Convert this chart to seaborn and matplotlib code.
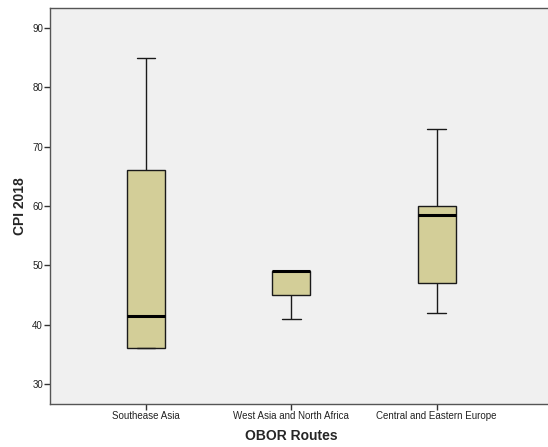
import numpy as np
import pandas as pd
import seaborn as sns
import matplotlib
matplotlib.use("Agg")
import matplotlib.pyplot as plt

routes = ["Southease Asia", "West Asia and North Africa", "Central and Eastern Europe"]
# five-number summaries: min, Q1, median, Q3, max
sea_stats = [36, 36, 41.5, 66, 85]
wana_stats = [41, 45, 49, 49, 49]
cee_stats = [42, 47, 58.5, 60, 73]
yticks = [30, 40, 50, 60, 70, 80, 90]

df = pd.DataFrame({
    "route": [routes[0]] * 5 + [routes[1]] * 5 + [routes[2]] * 5,
    "cpi": sea_stats + wana_stats + cee_stats,
})

sns.set_style("white")
plt.rcParams["font.family"] = ["Liberation Sans", "DejaVu Sans"]

fig = plt.figure(figsize=(5.48, 4.47), dpi=100)
ax = fig.add_axes([50 / 548, 43 / 447, 1 - 50 / 548 + 0.01, (404 - 8) / 447])
ax.set_facecolor("#F0F0F0")

sns.boxplot(
    data=df, x="route", y="cpi", order=routes, ax=ax,
    whis=(0, 100), width=0.26, color="#D3CE98", saturation=1,
    linecolor="#1a1a1a", linewidth=1,
    medianprops=dict(color="black", linewidth=2.2),
    showfliers=False,
)

ax.set_xlim(-0.661, 2.804)
ax.set_ylim(26.6, 93.4)
ax.set_yticks(yticks)
ax.set_yticklabels([str(t) for t in yticks])
ax.tick_params(axis="both", direction="out", length=4, width=1, color="#333333",
               labelsize=7, labelcolor="#222222", left=True, bottom=True, pad=1)
for s in ["left", "bottom", "top"]:
    ax.spines[s].set_visible(True)
    ax.spines[s].set_color("#555555")
    ax.spines[s].set_linewidth(1)
ax.spines["right"].set_visible(False)

ax.set_xlabel("OBOR Routes", fontsize=10, fontweight="bold", labelpad=6)
ax.xaxis.label.set_x(0.48)
ax.set_ylabel("CPI 2018", fontsize=10, fontweight="bold", labelpad=4)

fig.savefig("out.png", dpi=100, facecolor="white")
